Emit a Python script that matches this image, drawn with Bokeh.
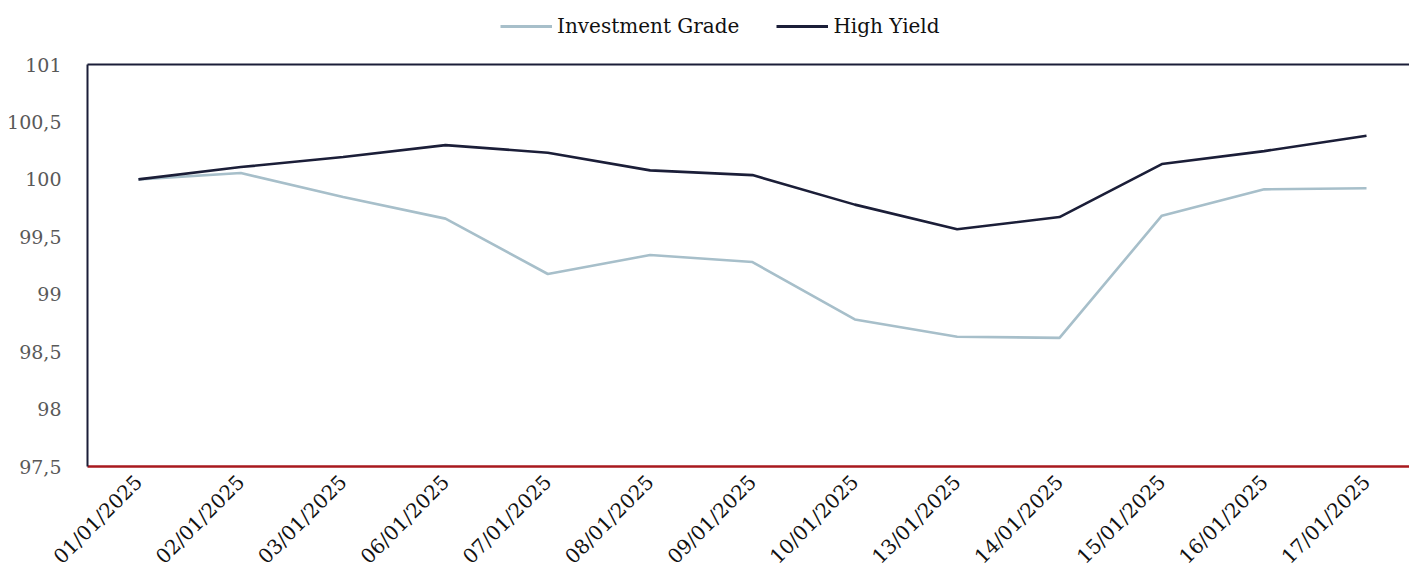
import math
from bokeh.plotting import figure
from bokeh.layouts import column
from bokeh.models import Range1d, FixedTicker, LinearAxis, Legend, LegendItem, ColumnDataSource
from bokeh.embed import file_html
from bokeh.resources import INLINE

dates = ["01/01/2025", "02/01/2025", "03/01/2025", "06/01/2025", "07/01/2025",
         "08/01/2025", "09/01/2025", "10/01/2025", "13/01/2025", "14/01/2025",
         "15/01/2025", "16/01/2025", "17/01/2025"]
investment_grade = [100.0, 100.055, 99.846, 99.658, 99.176, 99.341, 99.28,
                    98.78, 98.63, 98.62, 99.684, 99.913, 99.922]
high_yield = [100.0, 100.107, 100.194, 100.298, 100.232, 100.078, 100.037,
              99.78, 99.565, 99.672, 100.133, 100.246, 100.38]
y_ticks = [97.5, 98.0, 98.5, 99.0, 99.5, 100.0, 100.5, 101.0]
y_tick_labels = ["97,5", "98", "98,5", "99", "99,5", "100", "100,5", "101"]
series_names = ["Investment Grade", "High Yield"]

FONT = "DejaVu Serif"
NAVY = "#1b1e38"
LIGHT = "#a7bfca"
RED = "#a8191e"

idx = list(range(len(dates)))
src = ColumnDataSource(dict(x=idx, ig=investment_grade, hy=high_yield))

W = 1409

# ---- legend strip ----
lg = figure(width=W, height=50, output_backend="svg", toolbar_location=None,
            x_axis_location=None, y_axis_location=None,
            x_range=Range1d(0, 1), y_range=Range1d(0, 1),
            min_border_left=0, min_border_right=0, min_border_top=0, min_border_bottom=0)
lg.outline_line_color = None
lg.grid.visible = False
# keys drawn off-range so only their legend swatches show
off = ColumnDataSource(dict(x=[-5, -4], y=[-5, -5]))
d_ig = lg.line("x", "y", source=off, line_color=LIGHT, line_width=2.8)
d_hy = lg.line("x", "y", source=off, line_color=NAVY, line_width=2.8)
legend = Legend(items=[LegendItem(label=series_names[0], renderers=[d_ig]),
                       LegendItem(label=series_names[1], renderers=[d_hy])],
                orientation="horizontal", location=(413, 12),
                label_text_font=FONT, label_text_font_size="20px",
                label_text_color="#111111", glyph_width=52, label_standoff=5,
                spacing=37, padding=2, margin=0, border_line_color=None,
                background_fill_alpha=0)
lg.add_layout(legend, "center")

# ---- main chart ----
p = figure(width=W, height=529, output_backend="svg", toolbar_location=None,
           x_range=Range1d(-0.498, 12.42), y_range=Range1d(97.5, 101),
           min_border_left=87, min_border_right=0, min_border_top=14,
           min_border_bottom=113)
p.outline_line_color = None
p.grid.visible = False

p.line("x", "ig", source=src, line_color=LIGHT, line_width=2.6)
p.line("x", "hy", source=src, line_color=NAVY, line_width=2.6)

xa = p.xaxis[0]
xa.ticker = FixedTicker(ticks=idx)
xa.major_label_overrides = {i: d for i, d in zip(idx, dates)}
xa.major_label_orientation = math.pi / 4
xa.major_label_text_font = FONT
xa.major_label_text_font_size = "20px"
xa.major_label_text_color = "#111111"
xa.major_tick_line_color = None
xa.minor_tick_line_color = None
xa.axis_line_color = RED
xa.axis_line_width = 2.5
xa.major_label_standoff = 6

ya = p.yaxis[0]
ya.ticker = FixedTicker(ticks=y_ticks)
ya.major_label_overrides = {t: l for t, l in zip(y_ticks, y_tick_labels)}
ya.major_label_text_font = FONT
ya.major_label_text_font_size = "19px"
ya.major_label_text_color = "#595959"
ya.major_tick_line_color = None
ya.minor_tick_line_color = None
ya.axis_line_color = NAVY
ya.axis_line_width = 2
ya.major_label_standoff = 20

top = LinearAxis(ticker=FixedTicker(ticks=[]), major_tick_line_color=None,
                 minor_tick_line_color=None, axis_line_color=NAVY, axis_line_width=1.8,
                 major_label_text_alpha=0)
p.add_layout(top, "above")

layout = column(lg, p, spacing=0)
open("out.html", "w").write(file_html(layout, INLINE))
